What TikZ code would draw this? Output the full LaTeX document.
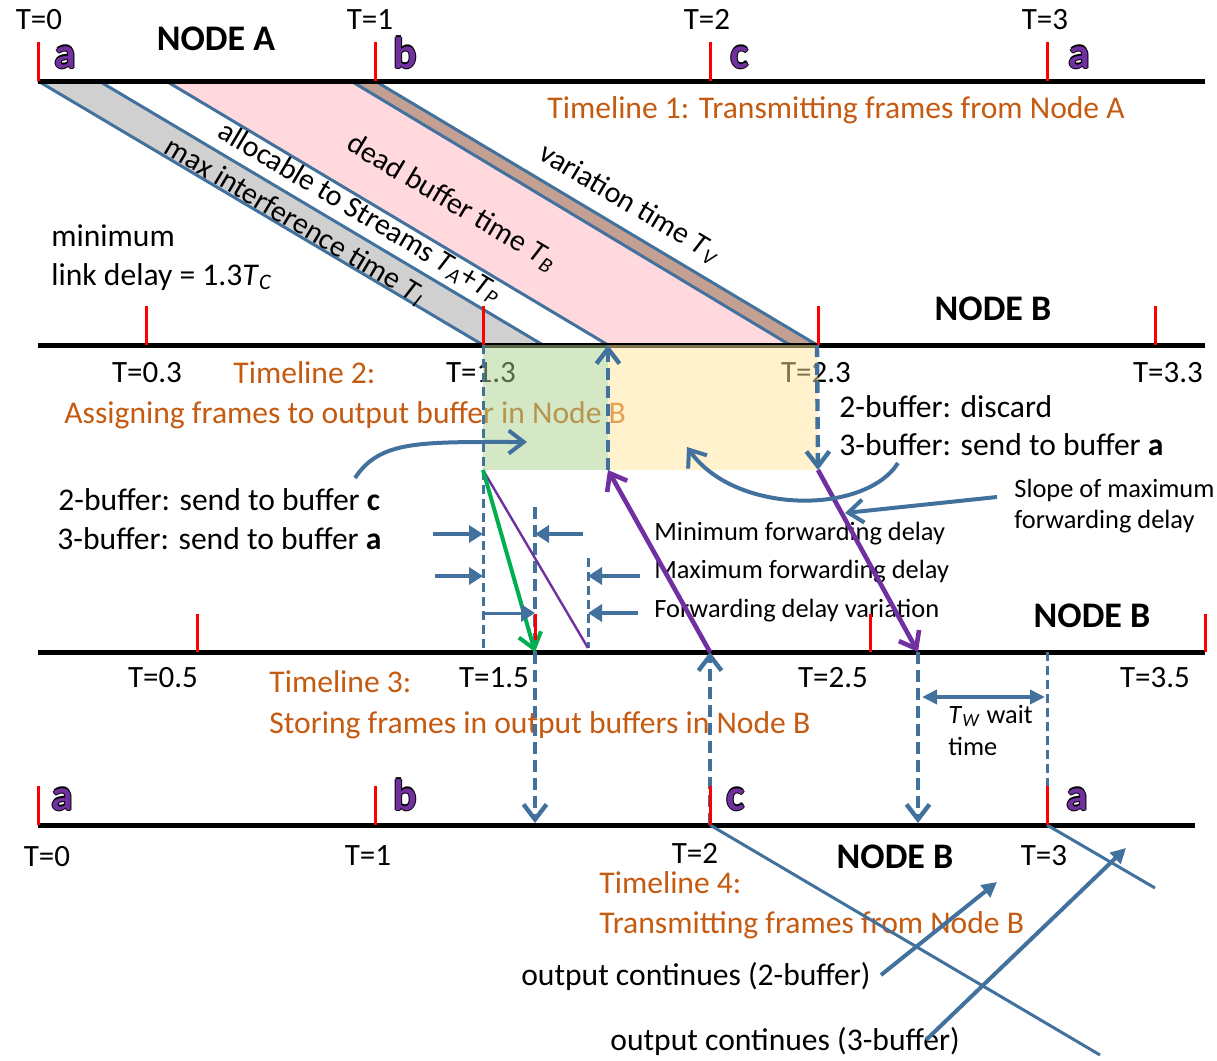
\documentclass[tikz,border=0pt]{standalone}
\usepackage{fontspec}
\setmainfont{Carlito}
\usepackage{xcolor}
\definecolor{tlblue}{RGB}{65,113,156}
\definecolor{tlorange}{RGB}{197,90,17}
\definecolor{tlpurple}{RGB}{112,48,160}
\definecolor{tlred}{RGB}{255,0,0}
\definecolor{tlgreen}{RGB}{0,176,80}
\definecolor{tlgrey}{RGB}{208,208,208}
\definecolor{tlpink}{RGB}{255,217,222}
\definecolor{tlbrown}{RGB}{195,160,145}
\definecolor{tlmint}{RGB}{169,209,142}
\definecolor{tlsand}{RGB}{255,230,153}
\usetikzlibrary{arrows.meta,positioning,calc}
\newcommand{\Tsub}[1]{\textit{T}\textsubscript{\textit{#1}}}
\newcommand{\slotletter}[1]{%
  \rlap{\textcolor{black}{\kern-0.7pt #1}}%
  \rlap{\textcolor{black}{\kern0.7pt #1}}%
  \rlap{\textcolor{black}{\raisebox{0.7pt}{#1}}}%
  \rlap{\textcolor{black}{\raisebox{-0.7pt}{#1}}}%
  \textcolor{tlpurple}{#1}}
\tikzset{
  tline/.style={line width=2.5pt, black},
  tickmark/.style={line width=1.5pt, tlred},
  tlabel/.style={font=\fontsize{15.5}{18}\selectfont, inner sep=0pt, anchor=base},
  slotlabel/.style={font=\fontsize{22}{24}\selectfont\bfseries, inner sep=0pt, anchor=base west},
  nodename/.style={font=\fontsize{18}{20}\selectfont\bfseries, inner sep=0pt, anchor=base},
  tltitle/.style={font=\fontsize{15.8}{18}\selectfont, text=tlorange, inner sep=0pt, anchor=base west},
  bodytext/.style={font=\fontsize{15.8}{18}\selectfont, inner sep=0pt, anchor=base west},
  smalltext/.style={font=\fontsize{13.2}{15}\selectfont, inner sep=0pt, anchor=base west},
  slanttext/.style={font=\fontsize{15}{17}\selectfont, inner sep=0pt, rotate=-30.8},
  slantline/.style={line width=1.5pt, tlblue},
  dashthin/.style={line width=1.5pt, tlblue, dash pattern=on 4.5pt off 2.5pt},
  dashthick/.style={line width=2.2pt, tlblue, dash pattern=on 6pt off 3pt},
  vtip/.style={-{Straight Barb[length=7.5pt,width=11.5pt]}},
  fwdarrow/.style={line width=2.3pt, tlpurple, vtip},
  greenarrow/.style={line width=2pt, tlgreen, vtip},
  gaparrow/.style={line width=2pt, tlblue, -{Triangle[length=7pt,width=8.5pt]}},
  curvearrow/.style={line width=2pt, tlblue, -{Straight Barb[length=7.5pt,width=11.5pt]}},
  outarrow/.style={line width=2pt, tlblue, -{Triangle[length=7.5pt,width=7.5pt]}},
}

\begin{document}
\begin{tikzpicture}[x=0.5pt, y=-0.5pt]
\useasboundingbox (0,0) rectangle (1217,1061);

% Frame edges from Node A to Node B
\coordinate (sA1) at (38,81);   \coordinate (sB1) at (483,345);
\coordinate (sA2) at (99,81);   \coordinate (sB2) at (543,345);
\coordinate (sA3) at (166,81);  \coordinate (sB3) at (608,345);
\coordinate (sA4) at (351,81);  \coordinate (sB4) at (790,345);
\coordinate (sA5) at (375,81);  \coordinate (sB5) at (817,345);

\fill[tlgrey] (sA1) -- (sA2) -- (sB2) -- (sB1) -- cycle;
\fill[tlpink] (sA3) -- (sA4) -- (sB4) -- (sB3) -- cycle;
\fill[tlbrown] (sA4) -- (sA5) -- (sB5) -- (sB4) -- cycle;

\draw[slantline] (sA1) -- (sB1);
\draw[slantline] (sA2) -- (sB2);
\draw[slantline] (sA3) -- (sB3);
\draw[slantline] (sA4) -- (sB4);
\draw[slantline] (sA5) -- (sB5);

\node[slanttext] (maxint) at (295,222) {max interference time \Tsub{I}};
\node[slanttext] (alloc) at (360,213) {allocable to Streams \Tsub{A}+\Tsub{P}};
\node[slanttext] (deadbuf) at (452,203) {dead buffer time \Tsub{B}};
\node[slanttext] (variation) at (630,204) {variation time \Tsub{V}};

% Timelines
\draw[tline] (38,81) -- (1205,81);
\draw[tline] (38,345) -- (1205,345);
\draw[tline] (38,652) -- (1205,652);
\draw[tline] (38,825) -- (1195,825);

% Time labels
\node[tlabel] (t10) at (39,29) {T=0};
\node[tlabel] (t11) at (370,29) {T=1};
\node[tlabel] (t12) at (707,29) {T=2};
\node[tlabel] (t13) at (1045,29) {T=3};
\node[tlabel] (t20) at (147,382) {T=0.3};
\node[tlabel] (t21) at (481,382) {T=1.3};
\node[tlabel] (t22) at (816,382) {T=2.3};
\node[tlabel] (t23) at (1168,382) {T=3.3};
\node[tlabel] (t30) at (163,687) {T=0.5};
\node[tlabel] (t31) at (494,687) {T=1.5};
\node[tlabel] (t32) at (833,687) {T=2.5};
\node[tlabel] (t33) at (1155,687) {T=3.5};
\node[tlabel] (t40) at (47,866) {T=0};
\node[tlabel] (t41) at (368,865) {T=1};
\node[tlabel] (t42) at (695,863) {T=2};
\node[tlabel] (t43) at (1044,865) {T=3};

% Frame letters
\node[slotlabel] (fa1) at (54,68) {\slotletter{a}};
\node[slotlabel] (fb1) at (393,68) {\slotletter{b}};
\node[slotlabel] (fc1) at (730,68) {\slotletter{c}};
\node[slotlabel] (fa2) at (1068,68) {\slotletter{a}};
\node[slotlabel] (fa3) at (51,810) {\slotletter{a}};
\node[slotlabel] (fb3) at (393,810) {\slotletter{b}};
\node[slotlabel] (fc3) at (726,810) {\slotletter{c}};
\node[slotlabel] (fa4) at (1066,810) {\slotletter{a}};

% Node names
\node[nodename] (nodeA) at (216,50) {NODE A};
\node[nodename] (nodeB2) at (993,320) {NODE B};
\node[nodename] (nodeB3) at (1092,627) {NODE B};
\node[nodename] (nodeB4) at (895,868) {NODE B};

% Timeline titles
\node[tltitle] (tl1) at (547,118) {Timeline 1: Transmitting frames from Node A};
\node[tltitle] (tl2a) at (233,383) {Timeline 2:};
\node[tltitle] (tl2b) at (64,423) {Assigning frames to output buffer in Node B};
\node[tltitle] (tl3a) at (269,692) {Timeline 3:};
\node[tltitle] (tl3b) at (269,733) {Storing frames in output buffers in Node B};
\node[tltitle] (tl4a) at (599,893) {Timeline 4:};
\node[tltitle] (tl4b) at (599,933) {Transmitting frames from Node B};

% Notes
\node[bodytext] (mind1) at (51,246) {minimum};
\node[bodytext] (mind2) at (51,285) {link delay = 1.3\Tsub{C}};
\node[bodytext] (twoc) at (58,510) {2-buffer: send to buffer \textbf{c}};
\node[bodytext] (threea) at (57,549) {3-buffer: send to buffer \textbf{a}};
\node[bodytext] (discard) at (839,417) {2-buffer: discard};
\node[bodytext] (senda) at (839,455) {3-buffer: send to buffer \textbf{a}};
\node[smalltext] (slope1) at (1014,497) {Slope of maximum};
\node[smalltext] (slope2) at (1014,528) {forwarding delay};
\node[smalltext] (minfd) at (654,540) {Minimum forwarding delay};
\node[smalltext] (maxfd) at (654,578) {Maximum forwarding delay};
\node[smalltext] (varfd) at (654,617) {Forwarding delay variation};
\node[smalltext] (wait1) at (948,723) {\Tsub{W} wait};
\node[smalltext] (wait2) at (948,755) {time};
\node[bodytext, anchor=base east] (out2) at (871,985) {output continues (2-buffer)};
\node[bodytext] (out3) at (610,1050) {output continues (3-buffer)};

% Output buffer windows
\fill[tlmint, fill opacity=0.5] (483,345) rectangle (608,470);
\fill[tlsand, fill opacity=0.5] (608,345) rectangle (818,470);

% Points on the timelines
\coordinate (b13low) at (483,470);
\coordinate (b13foot) at (483,648);
\coordinate (bmidlow) at (608,470);
\coordinate (b23low) at (818,470);
\coordinate (s15top) at (535,507);
\coordinate (s15) at (535,652);
\coordinate (svartop) at (588,558);
\coordinate (svar) at (588,648);
\coordinate (s20) at (710,652);
\coordinate (s27) at (918,652);
\coordinate (s30) at (1047,652);
\coordinate (o15) at (535,823);
\coordinate (o20) at (710,825);
\coordinate (o27) at (918,823);
\coordinate (o30) at (1047,787);
\coordinate (o30b) at (1047,825);

% Dashed guides
\draw[dashthin] (sB1) -- (b13foot);
\draw[dashthick, vtip] (bmidlow) -- (sB3);
\draw[dashthick, vtip] (sB5) -- (b23low);
\draw[dashthick] (s15top) -- (s15);
\draw[dashthin] (svartop) -- (svar);
\draw[dashthick, vtip] (s15) -- (o15);
\draw[dashthick, vtip] (o20) -- (s20);
\draw[dashthick, vtip] (s27) -- (o27);
\draw[dashthin] (s30) -- (o30);

% Forwarding paths
\draw[fwdarrow] (s20) -- (bmidlow);
\draw[fwdarrow] (b23low) -- (s27);
\draw[tlpurple, line width=1.2pt] (b13low) -- (svar);
\draw[greenarrow] (b13low) -- (s15);

% Delay markers
\coordinate (minL) at (433,534);
\coordinate (minR) at (583,534);
\coordinate (maxL) at (435,576);
\coordinate (maxR) at (640,576);
\coordinate (varR) at (638,613);
\draw[gaparrow] (minL) -- (minL -| sB1);
\draw[gaparrow] (minR) -- (minR -| s15);
\draw[gaparrow] (maxL) -- (maxL -| sB1);
\draw[gaparrow] (maxR) -- (maxR -| svar);
\draw[gaparrow, line width=1.5pt] (varR -| sB1) -- (varR -| s15);
\draw[gaparrow] (varR) -- (varR -| svar);

% Wait time
\coordinate (twL) at (922,697);
\coordinate (twR) at (1045,697);
\draw[line width=1.8pt, tlblue, {Triangle[length=7.5pt,width=7pt]}-{Triangle[length=7.5pt,width=7pt]}] (twL) -- (twR);

% Curved pointers
\coordinate (c1s) at (355,478);
\coordinate (c1e) at (527,442);
\draw[curvearrow] (c1s) .. controls (380,440) and (420,442) .. (c1e);
\coordinate (c2s) at (898,463);
\coordinate (c2e) at (687,447);
\draw[curvearrow] (c2s) .. controls (865,515) and (735,515) .. (c2e);
\coordinate (slopeS) at (997,497);
\coordinate (slopeE) at (845,513);
\draw[curvearrow] (slopeS) -- (slopeE);

% Output from Node B
\coordinate (x2end) at (1100,1055);
\coordinate (x3end) at (1155,888);
\draw[slantline] (o20) -- (x2end);
\draw[slantline] (o30b) -- (x3end);
\coordinate (out2s) at (881,975);
\coordinate (out2e) at (997,882);
\coordinate (out3s) at (926,1040);
\coordinate (out3e) at (1126,848);
\draw[outarrow] (out2s) -- (out2e);
\draw[outarrow] (out3s) -- (out3e);

% Ticks
\draw[tickmark] (38,42) -- (38,81);
\draw[tickmark] (375,42) -- (375,81);
\draw[tickmark] (710,42) -- (710,81);
\draw[tickmark] (1047,42) -- (1047,81);
\draw[tickmark] (146,306) -- (146,345);
\draw[tickmark] (483,306) -- (483,345);
\draw[tickmark] (818,306) -- (818,345);
\draw[tickmark] (1155,306) -- (1155,345);
\draw[tickmark] (197,614) -- (197,652);
\draw[tickmark] (535,614) -- (535,640);
\draw[tickmark] (870,614) -- (870,652);
\draw[tickmark] (1205,614) -- (1205,652);
\draw[tickmark] (38,786) -- (38,825);
\draw[tickmark] (375,786) -- (375,825);
\draw[tickmark] (710,786) -- (710,825);
\draw[tickmark] (1047,786) -- (1047,825);

\end{tikzpicture}
\end{document}
